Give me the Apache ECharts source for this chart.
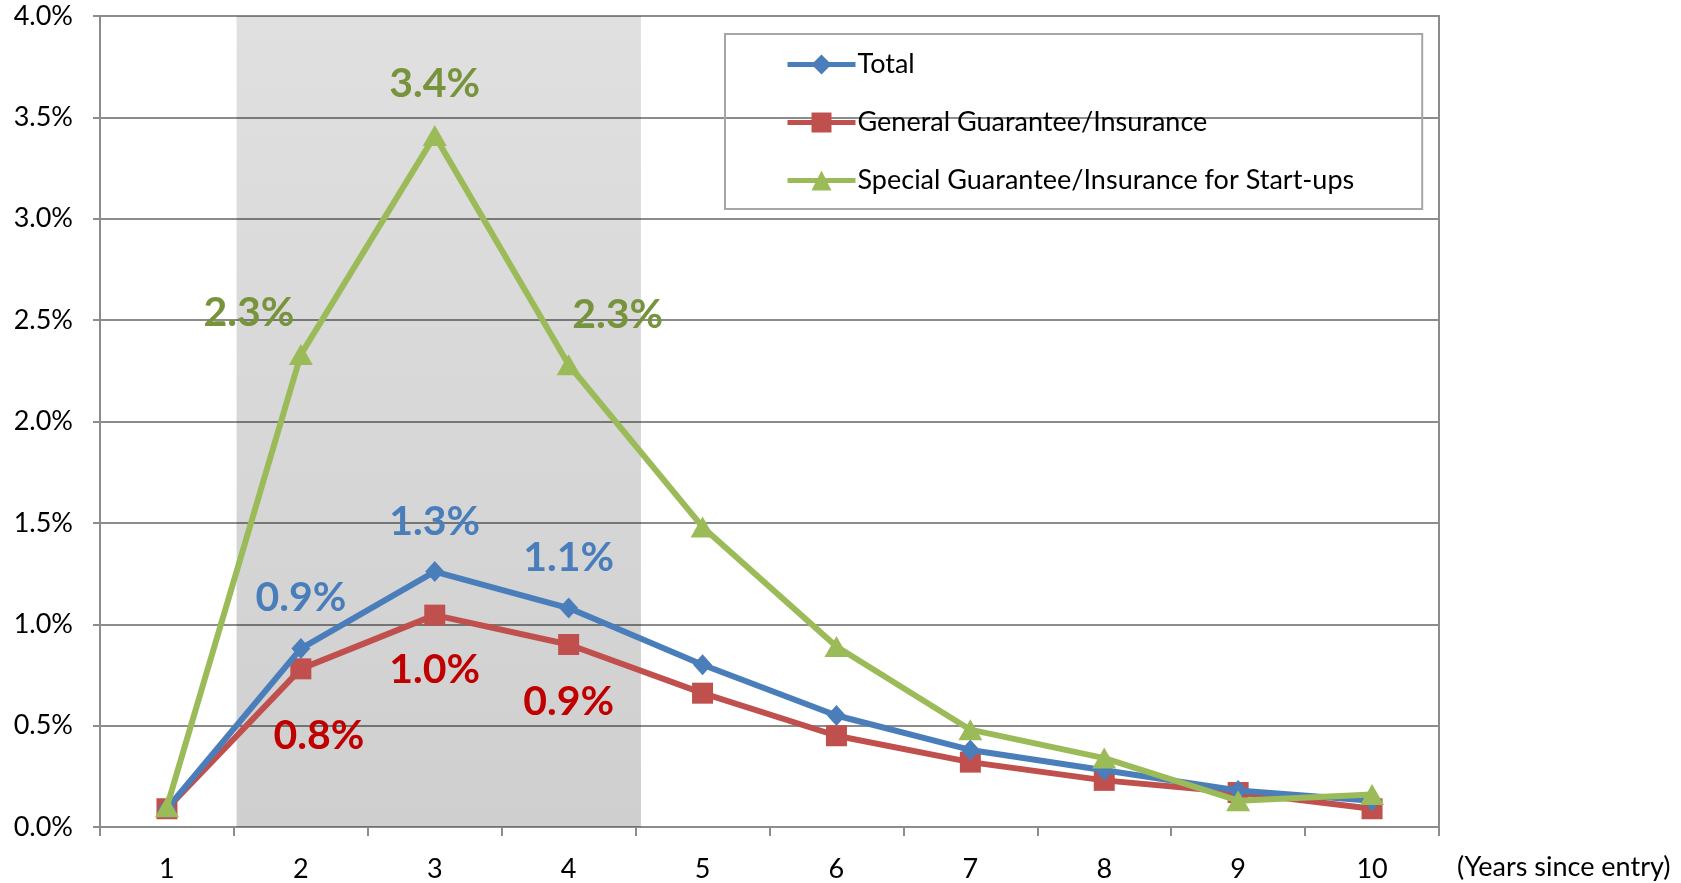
<!DOCTYPE html>
<html lang="en">
  <head>
    <meta charset="UTF-8" />
    <title>Default rate by years since entry</title>
    <script src="https://cdn.jsdelivr.net/npm/echarts@6/dist/echarts.min.js"></script>
  </head>
  <style>
    html,
    body {
      margin: 0;
      padding: 0;
      width: 100%;
      height: 100%;
      background: #fff;
    }
    #echart {
      width: 1681px;
      height: 883px;
    }
  </style>
  <body>
    <div id="echart"></div>
  </body>
  <script>
    // years since entry
    const years = ["1", "2", "3", "4", "5", "6", "7", "8", "9", "10"];
    // rates in %
    const total = [0.09, 0.88, 1.26, 1.08, 0.8, 0.55, 0.38, 0.28, 0.18, 0.13];
    const general = [0.09, 0.78, 1.045, 0.9, 0.66, 0.45, 0.32, 0.23, 0.17, 0.09];
    const startup = [0.1, 2.33, 3.41, 2.28, 1.48, 0.89, 0.48, 0.34, 0.13, 0.16];
    const names = [
      "Total",
      "General Guarantee/Insurance",
      "Special Guarantee/Insurance for Start-ups",
    ];
    // shaded band (in category units, 1 = first year)
    const shadeFrom = 1.52;
    const shadeTo = 4.54;

    const font = "Lato";

    function withLabels(values, color, offsets) {
      return values.map((v, i) => {
        if (!offsets[i]) return v;
        return {
          value: v,
          label: {
            show: true,
            position: "inside",
            offset: offsets[i],
            formatter: (p) => p.value.toFixed(1) + "%",
            color: color,
            fontFamily: font,
            fontWeight: "bold",
            fontSize: 41,
          },
        };
      });
    }

    const chart = echarts.init(document.getElementById("echart"));
    const option = {
      backgroundColor: "#fff",
      animation: false,
      grid: {
        left: 100,
        right: 242,
        top: 16,
        bottom: 54,
        show: true,
        borderColor: "#8c8c8c",
        borderWidth: 2,
      },
      legend: {
        orient: "vertical",
        left: 725,
        top: 34,
        data: names,
        padding: [17, 68, 15, 60],
        itemGap: 31,
        itemWidth: 68,
        itemHeight: 25,
        lineStyle: { width: 5 },
        borderColor: "#a6a6a6",
        borderWidth: 2,
        textStyle: { fontFamily: font, fontSize: 27, color: "#000", padding: [0, 0, 0, -3] },
      },
      xAxis: [
        {
          type: "category",
          data: years,
          boundaryGap: true,
          axisLine: { lineStyle: { color: "#8c8c8c", width: 2 } },
          axisTick: { show: true, length: 9, lineStyle: { color: "#8c8c8c", width: 2 } },
          axisLabel: { fontFamily: font, fontSize: 27, color: "#000", margin: 29 },
          name: "(Years since entry)",
          nameLocation: "end",
          nameGap: 18,
          nameTextStyle: {
            fontFamily: font,
            fontSize: 27,
            color: "#000",
            verticalAlign: "top",
            padding: [27, 0, 0, 0],
          },
        },
        { type: "value", min: 0.5, max: 10.5, show: false },
      ],
      yAxis: [
        {
          type: "value",
          min: 0,
          max: 4,
          interval: 0.5,
          axisLine: { show: true, lineStyle: { color: "#8c8c8c", width: 2 } },
          axisTick: { show: true, length: 7, lineStyle: { color: "#8c8c8c", width: 2 } },
          splitLine: { lineStyle: { color: "#8c8c8c", width: 2 } },
          axisLabel: {
            fontFamily: font,
            fontSize: 27,
            color: "#000",
            margin: 27,
            formatter: (v) => v.toFixed(1) + "%",
          },
        },
        { type: "value", min: 0, max: 1, show: false },
      ],
      series: [
        {
          name: "shade",
          type: "line",
          xAxisIndex: 1,
          yAxisIndex: 1,
          data: [],
          clip: false,
          silent: true,
          markArea: {
            silent: true,
            itemStyle: {
              color: new echarts.graphic.LinearGradient(0, 0, 0, 1, [
                { offset: 0, color: "rgba(0,0,0,0.12)" },
                { offset: 1, color: "rgba(0,0,0,0.19)" },
              ]),
            },
            data: [[{ xAxis: shadeFrom, yAxis: 0 }, { xAxis: shadeTo, yAxis: 1 }]],
          },
        },
        {
          name: names[1],
          type: "line",
          data: withLabels(general, "#c00000", { 1: [18, 67], 2: [0, 55], 3: [0, 57] }),
          symbol: "rect",
          symbolSize: 21,
          color: "#c0504d",
          lineStyle: { width: 6 },
          z: 3,
        },
        {
          name: names[0],
          type: "line",
          data: withLabels(total, "#4a7ebb", { 1: [0, -51], 2: [0, -50], 3: [0, -50] }),
          symbol: "diamond",
          symbolSize: [19, 21],
          color: "#4a7ebb",
          lineStyle: { width: 6 },
          z: 4,
        },
        {
          name: names[2],
          type: "line",
          data: withLabels(startup, "#77933c", { 1: [-52, -42], 2: [0, -52], 3: [49, -50] }),
          symbol: "triangle",
          symbolSize: [24, 21],
          color: "#9bbb59",
          lineStyle: { width: 6 },
          z: 5,
        },
      ],
    };
    chart.setOption(option);
  </script>
</html>
